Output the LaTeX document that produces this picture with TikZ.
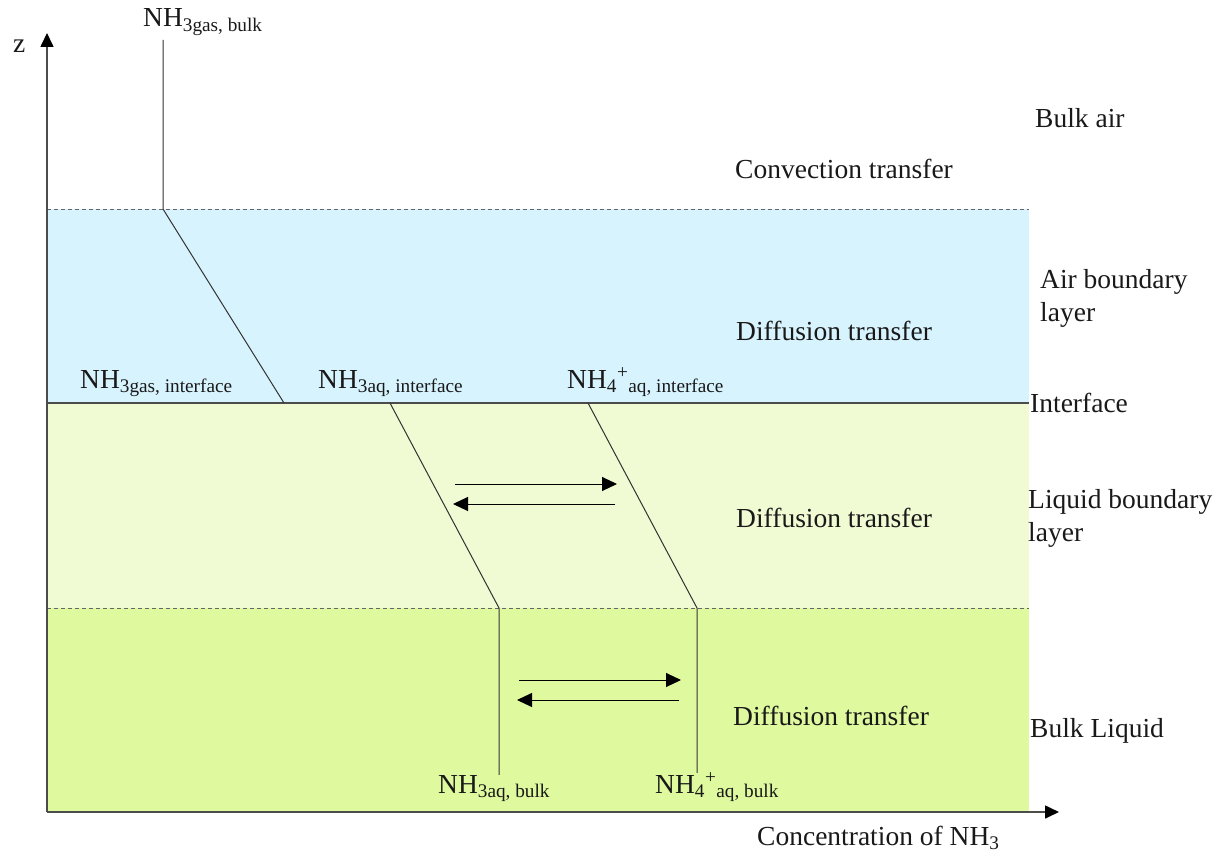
\documentclass[tikz,border=0pt]{standalone}
\usepackage{fontspec}
\setmainfont{Liberation Serif}
\usepackage{tikz}
\usetikzlibrary{arrows.meta}
\usetikzlibrary{positioning}
\definecolor{airblue}{RGB}{215,244,254}
\definecolor{liqgreen}{RGB}{240,250,211}
\definecolor{bulkgreen}{RGB}{223,249,158}
\tikzstyle{every node}+=[inner sep=0pt, font=\fontsize{27.5}{33}\selectfont]
\tikzstyle{txt} = [anchor=base west, text=black!90]
\tikzstyle{conc} = [draw, black!80, line width=1pt]
\tikzstyle{react} = [draw, line width=1pt, -{Triangle[length=15pt, width=14pt]}]
\tikzstyle{axis} = [draw, black!70, line width=1.6pt, -{Triangle[length=14pt, width=13pt, color=black]}]
\tikzstyle{border} = [draw, black!60, line width=1pt, dash pattern=on 4pt off 3pt]
\tikzstyle{iface} = [draw, black!70, line width=1.8pt]

\begin{document}
\begin{tikzpicture}[x=1pt, y=-1pt]
            \useasboundingbox (0,0) rectangle (1223,856);
            % Layers
            \fill[airblue] (48,209) rectangle (1029,403);
            \fill[liqgreen] (48,403) rectangle (1029,608);
            \fill[bulkgreen] (48,608) rectangle (1029,812);
            \path [border] (47,209) -- (1029,209);
            \path [border] (47,608) -- (1029,608);
            \path [iface] (47,403) -- (1029,403);
            % Axes
            \coordinate (o) at (47,812);
            \coordinate (ztip) at (47,33);
            \coordinate (ctip) at (1059,812);
            \path [axis] (o) -- (ztip);
            \path [axis] (o) -- (ctip);
            \node [txt] (z) at (13,53) {z};
            \node [txt] (conc) at (757,845) {Concentration of NH\textsubscript{3}};
            % Place nodes
            \node [txt] (bulkair) at (1035,128) {Bulk air};
            \node [txt] (airbl) at (1040,288) {Air boundary};
            \node [txt] (airbl2) at ([yshift=-33pt]airbl.base west) {layer};
            \node [txt] (iftext) at (1030,412) {Interface};
            \node [txt] (liqbl) at (1028,508) {Liquid boundary};
            \node [txt] (liqbl2) at ([yshift=-33pt]liqbl.base west) {layer};
            \node [txt] (bulkliq) at (1030,737) {Bulk Liquid};
            \node [txt] (conv) at (735,178) {Convection transfer};
            \node [txt] (diff1) at (736,340) {Diffusion transfer};
            \node [txt] (diff2) at (736,527) {Diffusion transfer};
            \node [txt] (diff3) at (733,725) {Diffusion transfer};
            \node [txt] (gasbulk) at (143,27) {NH\textsubscript{3gas, bulk}};
            \node [txt] (gasif) at (80,388) {NH\textsubscript{3gas, interface}};
            \node [txt] (aqif) at (318,388) {NH\textsubscript{3aq, interface}};
            \node [txt] (ionif) at (567,388) {NH\textsubscript{4}\textsuperscript{+}\textsubscript{aq, interface}};
            \node [txt] (aqbulk) at (438,793) {NH\textsubscript{3aq, bulk}};
            \node [txt] (ionbulk) at (655,793) {NH\textsubscript{4}\textsuperscript{+}\textsubscript{aq, bulk}};
            % Profiles
            \coordinate (g0) at (163,40);
            \coordinate (g1) at (163,209);
            \coordinate (g2) at (284,403);
            \coordinate (a1) at (390,403);
            \coordinate (a2) at (499,608);
            \coordinate (i1) at (588,403);
            \coordinate (i2) at (697,608);
            \path [conc] (g0) -- (g1) -- (g2);
            \path [conc] (a1) -- (a2) -- (aqbulk.north -| a2);
            \path [conc] (i1) -- (i2) -- (ionbulk.north -| i2);
            % Equilibrium arrows
            \foreach \x/\y/\n in {455/484/up, 519/680/low} {
              \coordinate (\n fa) at (\x,\y);
              \coordinate (\n fb) at (\x+162,\y);
              \coordinate (\n ba) at (\x+160,\y+20);
              \coordinate (\n bb) at (\x-2,\y+20);
              \path [react] (\n fa) -- (\n fb);
              \path [react] (\n ba) -- (\n bb);
            }
          \end{tikzpicture}
\end{document}
